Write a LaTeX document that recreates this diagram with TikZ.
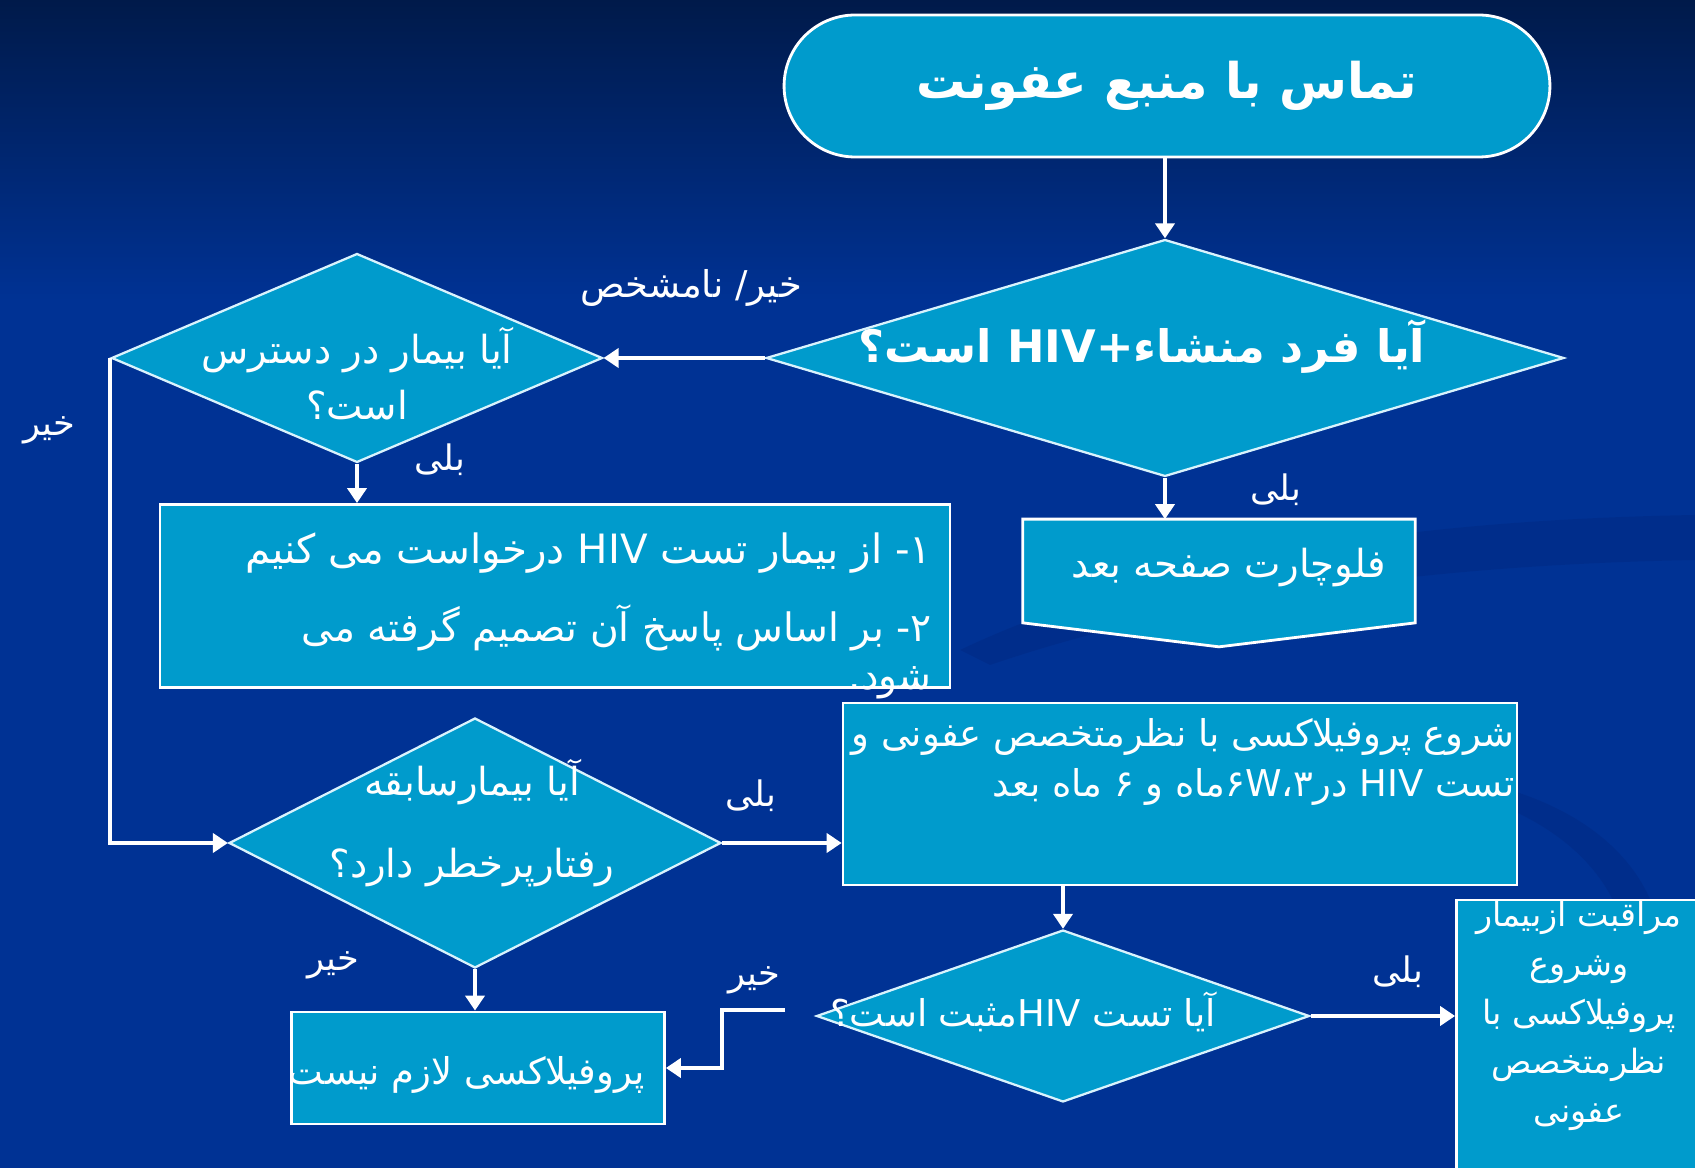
\documentclass[tikz,border=0pt]{standalone}
\usepackage{fontspec}
\newfontfamily\fa[Script=Arabic]{DejaVu Sans}
\TeXXeTstate=1
\usetikzlibrary{arrows.meta,shapes.geometric,calc}
\definecolor{bgtop}{RGB}{0,26,74}
\definecolor{bgblue}{RGB}{0,50,148}
\definecolor{swoosh}{RGB}{0,38,124}
\definecolor{boxfill}{RGB}{0,155,204}
\newcommand{\rl}[1]{\beginR #1\endR}
\newcommand{\lr}[1]{\beginL #1\endL}
\newcommand{\fs}[2]{\fontsize{#1}{#2}\selectfont}
\tikzset{
  flowbox/.style={rectangle, draw=white, line width=1.6pt, fill=boxfill, inner sep=0pt},
  decision/.style={diamond, draw=white!85!cyan, line width=1.3pt, fill=boxfill, inner sep=0pt},
  txt/.style={text=white, inner sep=0pt},
  answer/.style={text=white, inner sep=0pt, font=\fa\fs{20}{24}},
  flow/.style={draw=white, line width=2.2pt, -{Triangle[width=0.38cm,length=0.3cm]}},
}
\begin{document}
\begin{tikzpicture}[x=0.02cm,y=-0.02cm]
\useasboundingbox (0,0) rectangle (1695,1168);
% background
\fill[bgblue] (0,0) rectangle (1695,1168);
\shade[top color=bgtop, bottom color=bgblue] (0,0) rectangle (1695,300);
\fill[swoosh, opacity=0.35] (960,650) .. controls (1150,560) and (1400,520) .. (1695,515)
  -- (1695,560) .. controls (1420,565) and (1180,600) .. (990,665) -- cycle;
\fill[swoosh, opacity=0.35] (1510,790) .. controls (1640,830) and (1700,930) .. (1640,1060)
  -- (1610,1060) .. controls (1660,940) and (1610,850) .. (1500,805) -- cycle;

% shapes
\node[flowbox, rounded corners=1.42cm, minimum width=15.32cm, minimum height=2.84cm,
  text=white, font=\fa\bfseries\fs{28}{34}] (contact) at (1167,86) {\rl{تماس با منبع عفونت}};
\node[decision, minimum width=15.96cm, minimum height=4.74cm] (source) at (1165,358) {};
\node[decision, minimum width=9.82cm, minimum height=4.18cm] (reach) at (357,358) {};
\node[flowbox, minimum width=15.8cm, minimum height=3.66cm] (request) at (555,596) {};
\node[rectangle, inner sep=0pt, minimum width=7.84cm, minimum height=2.06cm] (nextpage) at (1219,571) {};
\draw[white, line width=1.6pt, fill=boxfill] (nextpage.south west) -- (nextpage.north west)
  -- (nextpage.north east) -- (nextpage.south east) -- ($(nextpage.south)+(0,24)$) -- cycle;
\node[decision, minimum width=9.84cm, minimum height=5cm] (risk) at (475,843) {};
\node[flowbox, minimum width=13.48cm, minimum height=3.64cm] (prophy) at (1180,794) {};
\node[flowbox, minimum width=7.46cm, minimum height=2.24cm] (noneed) at (478,1068) {};
\node[decision, minimum width=9.86cm, minimum height=3.44cm] (positive) at (1063,1016) {};
\node[flowbox, minimum width=5.26cm, minimum height=5.8cm] (care) at (1588,1045) {};

% texts
\node[txt, font=\fa\bfseries\fs{25.5}{32}] (sourcetxt) at (1142,347) {\rl{آیا فرد منشاء\lr{HIV+} است؟}};
\node[txt, align=center, font=\fa\fs{22}{32}] (reachtxt) at (357,374) {\rl{آیا بیمار در دسترس}\\\rl{است؟}};
\node[txt, anchor=east, font=\fa\fs{23}{28}] (req1) at (932,553) {\rl{۱- از بیمار تست \lr{HIV} درخواست می کنیم}};
\node[txt, anchor=east, font=\fa\fs{22.3}{28}] (req2) at (932,628) {\rl{۲- بر اساس پاسخ آن تصمیم گرفته می}};
\node[txt, anchor=east, font=\fa\fs{22.3}{28}] (req3) at (932,683) {\rl{شود.}};
\node[txt, font=\fa\fs{22}{28}] (nexttxt) at (1229,568) {\rl{فلوچارت صفحه بعد}};
\node[txt, align=center, font=\fa\fs{22}{47}] (risktxt) at (472,823) {\rl{آیا بیمارسابقه}\\\rl{رفتارپرخطر دارد؟}};
\node[txt, anchor=east, align=right, font=\fa\fs{21}{28}] (prophytxt) at (1515,762)
  {\rl{شروع پروفیلاکسی با نظرمتخصص عفونی و}\\\rl{تست \lr{HIV}  در۶W،۳ماه و ۶ ماه بعد}};
\node[txt, font=\fa\fs{21}{28}] (noneedtxt) at (467,1075) {\rl{پروفیلاکسی لازم نیست}};
\node[txt, font=\fa\fs{21}{28}] (positivetxt) at (1023,1012) {\rl{آیا تست \lr{HIV}مثبت است؟}};
\node[txt, anchor=north, align=center, font=\fa\fs{19}{27.8}] (caretxt) at (1579,901)
  {\rl{مراقبت ازبیمار}\\\rl{وشروع}\\\rl{پروفیلاکسی با}\\\rl{نظرمتخصص}\\\rl{عفونی}};

% answers
\node[answer, font=\fa\fs{21}{24}] (unclear) at (691,288) {\rl{خیر/ نامشخص}};
\node[answer] (yesreach) at (440,460) {\rl{بلی}};
\node[answer] (yessource) at (1276,490) {\rl{بلی}};
\node[answer] (yesrisk) at (751,796) {\rl{بلی}};
\node[answer] (yespos) at (1398,972) {\rl{بلی}};
\node[answer] (noreach) at (49,430) {\rl{خیر}};
\node[answer] (norisk) at (333,965) {\rl{خیر}};
\node[answer] (nopos) at (754,980) {\rl{خیر}};

% connectors
\coordinate (nostart) at (785,1010);
\draw[flow] (source.north |- contact.south) -- (source.north);
\draw[flow] (source.west) -- (reach.east);
\draw[flow] (reach.south) -- (reach.south |- request.north);
\draw[flow] (source.south) -- (source.south |- nextpage.north);
\draw[flow] (reach.west) |- (risk.west);
\draw[flow] (risk.east) -- (risk.east -| prophy.west);
\draw[flow] (risk.south) -- (risk.south |- noneed.north);
\draw[flow] (positive.north |- prophy.south) -- (positive.north);
\draw[flow] (positive.east) -- (positive.east -| care.west);
\draw[flow] (nostart) -- ++(-63,0) |- (noneed.east);
\end{tikzpicture}
\end{document}
